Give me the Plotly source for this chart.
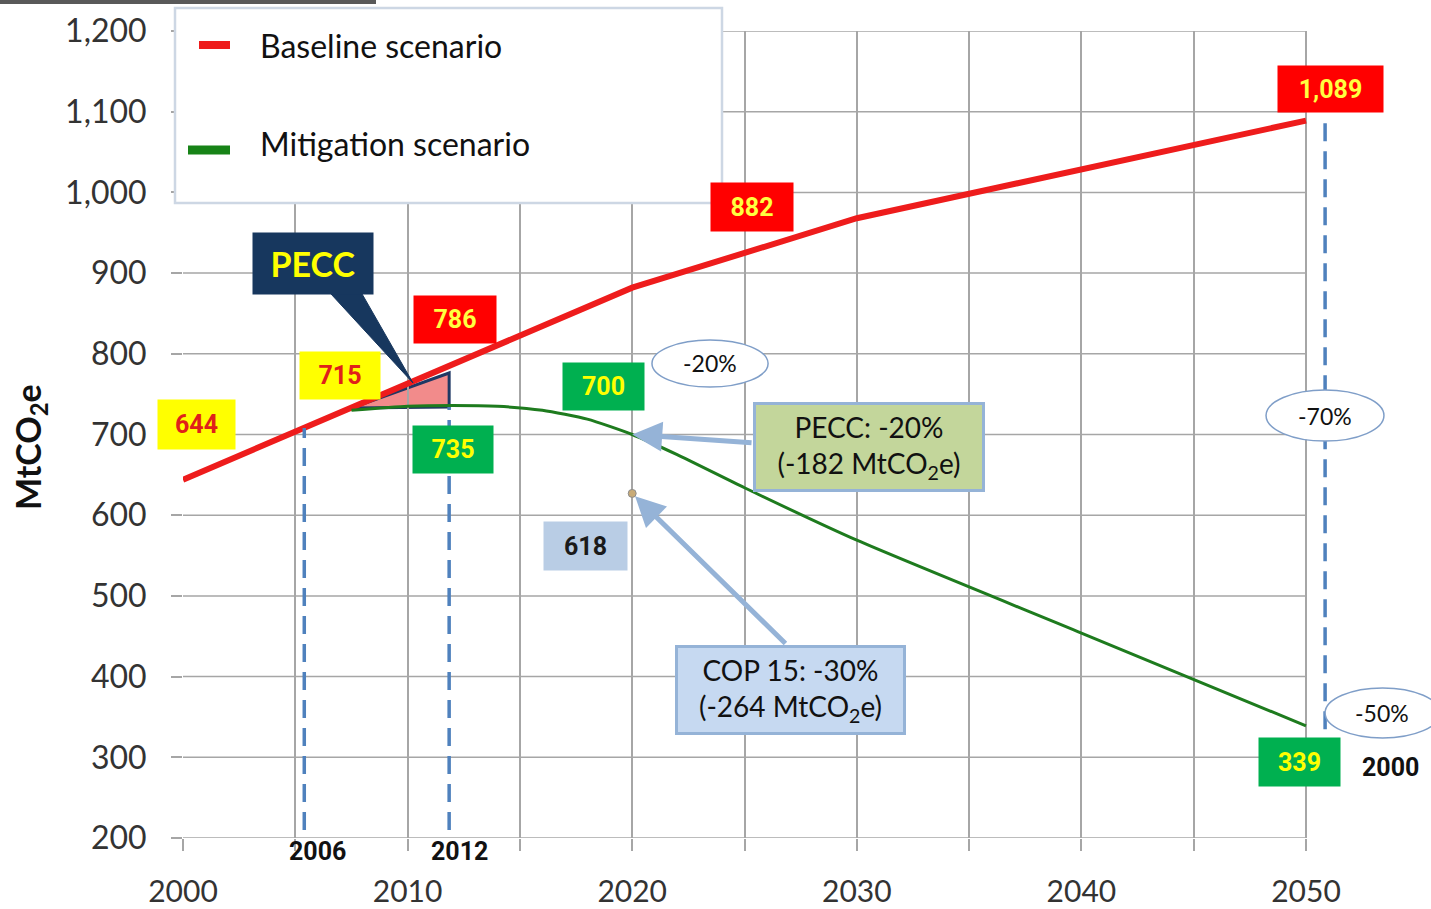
import numpy as np
import plotly.graph_objects as go

# ---------------- data ----------------
years_base = [2000, 2006, 2012, 2020, 2030, 2040, 2050]
baseline = [644, 715, 786, 882, 968, 1029, 1089]

years_mit = [2007.5, 2010, 2012, 2014, 2016, 2018, 2020, 2022, 2025, 2030, 2040, 2050]
mitigation = [730, 735, 736, 735, 730, 719, 700, 675, 634, 569, 454, 339]

cop15_year = [2020]
cop15_value = [627]

x_ticks = [2000, 2010, 2020, 2030, 2040, 2050]
x_minor = [2005, 2015, 2025, 2035, 2045]
y_ticks = list(range(200, 1201, 100))
y_ticktext = [f"{v:,}" for v in y_ticks]

value_labels = ["644", "715", "786", "882", "1,089", "735", "700", "339", "618"]
year_labels = ["2006", "2012", "2000"]
pct_labels = ["-20%", "-70%", "-50%"]
series_names = ["Baseline scenario", "Mitigation scenario"]

# ---------------- styles ----------------
RED = "#ee1c1c"
GREEN_LINE = "#1e7b1e"
GRID = "#a6a6a6"
YEL = "#ffff00"
BOXRED = "#ff0000"
BOXGRN = "#00b050"
BOXBLUE = "#b9cde5"
NAVY = "#17375e"
ARROW = "#95b3d7"
DASH = "#4f81bd"
NARROW = "Roboto, Liberation Sans, sans-serif"
SANS = "Lato, Calibri, Open Sans, sans-serif"

fig = go.Figure()

fig.add_trace(go.Scatter(x=years_base, y=baseline, mode="lines", name=series_names[0],
                         line=dict(color=RED, width=6)))
fig.add_trace(go.Scatter(x=years_mit, y=mitigation, mode="lines", name=series_names[1],
                         line=dict(color=GREEN_LINE, width=3, shape="spline", smoothing=0.6)))
fig.add_trace(go.Scatter(x=cop15_year, y=cop15_value, mode="markers", name="COP 15",
                         marker=dict(color="#c8ab78", size=8, line=dict(color="#8c8c8c", width=1))))

shapes = []
# horizontal gridlines (stop at 2050)
for v in y_ticks:
    shapes.append(dict(type="line", xref="x", yref="y", x0=x_ticks[0], x1=x_ticks[-1], y0=v, y1=v,
                       line=dict(color=GRID, width=1.5), layer="below"))

# PECC triangle from data
x_left = years_mit[0]
x_right = 2011.85
b_left = float(np.interp(x_left, years_base, baseline))
b_right = float(np.interp(x_right, years_base, baseline)) - 8
m_right = float(np.interp(x_right, years_mit, mitigation)) - 2
shapes.append(dict(type="path", xref="x", yref="y",
                   path=f"M {x_left},{b_left} L {x_right},{b_right} L {x_right},{m_right} Z",
                   fillcolor="#f28b8b", line=dict(color="#1f3864", width=3), layer="below"))

# dashed guide lines
dash_x = [2005.4, 2011.85, 2050.85]
dash_top = [float(np.interp(2005.4, years_base, baseline)), m_right, baseline[-1]]
dash_bot = [210, 210, 300]
for xx, yt, yb in zip(dash_x, dash_top, dash_bot):
    shapes.append(dict(type="line", xref="x", yref="y", x0=xx, x1=xx, y0=yb, y1=yt,
                       line=dict(color=DASH, width=3.5, dash="18px,10px"), layer="above"))

# PECC pointer
shapes.append(dict(type="path", xref="x", yref="y",
                   path="M 2006.23,885 L 2010.24,763.8 L 2007.75,885 Z",
                   fillcolor=NAVY, line=dict(color=NAVY, width=1), layer="above"))

# ellipses
ellipses = [(2020.88, 2026.05, 758.9, 817.1), (2048.22, 2053.47, 691.9, 755.1),
            (2050.85, 2055.97, 323.9, 385.9)]
for x0, x1, y0, y1 in ellipses:
    shapes.append(dict(type="circle", xref="x", yref="y", x0=x0, x1=x1, y0=y0, y1=y1,
                       fillcolor="white", line=dict(color="#7f9ec8", width=1.5), layer="above"))


def px(xp):
    return (xp - 183) / 1248.0


def py(yp):
    return (838 - yp) / 807.0


# legend box (paper)
shapes.append(dict(type="rect", xref="paper", yref="paper", x0=px(175), x1=px(722), y0=py(203), y1=py(8),
                   fillcolor="white", line=dict(color="#cdd7e4", width=2.5), layer="above"))
shapes.append(dict(type="line", xref="paper", yref="paper", x0=px(199), x1=px(230), y0=py(45), y1=py(45),
                   line=dict(color=RED, width=8), layer="above"))
shapes.append(dict(type="line", xref="paper", yref="paper", x0=px(188), x1=px(230), y0=py(150), y1=py(150),
                   line=dict(color="#178317", width=9), layer="above"))
# top grey bar
shapes.append(dict(type="rect", xref="paper", yref="paper", x0=px(0), x1=px(376), y0=py(4), y1=py(0),
                   fillcolor="#595959", line=dict(width=0), layer="above"))

annotations = []
# legend texts
for name, yy in zip(series_names, [45, 143]):
    annotations.append(dict(xref="paper", yref="paper", x=px(258), y=py(yy), text=name, showarrow=False,
                            xanchor="left", yanchor="middle", font=dict(family=SANS, size=32, color="#111")))

# value labels
label_pos = [(2000.62, 711.8, 77, 49, YEL, "#e0201a"),
             (2006.99, 773.7, 80, 47, YEL, "#e0201a"),
             (2012.11, 843.1, 82, 47, BOXRED, "#ffff40"),
             (2025.33, 981.9, 82, 48, BOXRED, "#ffff40"),
             (2051.07, 1128.1, 105, 46, BOXRED, "#ffff40"),
             (2012.02, 680.8, 80, 47, BOXGRN, YEL),
             (2018.70, 758.9, 81, 47, BOXGRN, YEL),
             (2049.73, 294.2, 81, 48, BOXGRN, YEL),
             (2017.90, 561.8, 83, 48, BOXBLUE, "#1a1a1a")]
for txt, (xx, yy, w, h, bg, fg) in zip(value_labels, label_pos):
    annotations.append(dict(x=xx, y=yy, xref="x", yref="y", text=f"<b>{txt}</b>", showarrow=False,
                            width=w, height=h, bgcolor=bg, borderpad=0, align="center", valign="middle",
                            font=dict(family=NARROW, size=25, color=fg)))

# year labels (below the axis -> paper y)
for txt, (xx, yy) in zip(year_labels, [(2006.01, py(851)), (2012.33, py(851)), (2053.74, py(767))]):
    annotations.append(dict(x=xx, y=yy, xref="x", yref="paper", text=f"<b>{txt}</b>", showarrow=False,
                            xanchor="center", yanchor="middle",
                            font=dict(family=NARROW, size=25, color="#111")))

# percentage ellipse texts
for txt, (xx, yy) in zip(pct_labels, [(2023.47, 788), (2050.85, 723.5), (2053.4, 354.9)]):
    annotations.append(dict(x=xx, y=yy, xref="x", yref="y", text=txt, showarrow=False,
                            font=dict(family=SANS, size=23, color="#111")))

# PECC callout box
annotations.append(dict(x=2005.79, y=912.5, xref="x", yref="y", text="<b>PECC</b>", showarrow=False,
                        width=120, height=61, bgcolor=NAVY, borderpad=0,
                        font=dict(family=SANS, size=34, color=YEL)))

# arrows
m2020 = float(np.interp(2020, years_mit, mitigation))
annotations.append(dict(x=2020, y=m2020, xref="x", yref="y", ax=2025.38, ay=689.5, axref="x", ayref="y",
                        text="", showarrow=True, arrowhead=2, arrowsize=1.2, arrowwidth=5,
                        arrowcolor=ARROW, standoff=0))
annotations.append(dict(x=cop15_year[0], y=cop15_value[0], xref="x", yref="y", ax=2026.89, ay=439.2,
                        axref="x", ayref="y", text="", showarrow=True, arrowhead=2, arrowsize=1.2,
                        arrowwidth=5, arrowcolor=ARROW, standoff=4))

# text boxes
annotations.append(dict(x=2030.54, y=684.5, xref="x", yref="y",
                        text="PECC: -20%<br>(-182 MtCO<sub>2</sub>e)", showarrow=False,
                        width=226, height=84, bgcolor="#c3d69b", bordercolor=ARROW, borderwidth=3, borderpad=0,
                        font=dict(family=SANS, size=28, color="#111")))
annotations.append(dict(x=2027.03, y=383.4, xref="x", yref="y",
                        text="COP 15: -30%<br>(-264 MtCO<sub>2</sub>e)", showarrow=False,
                        width=225, height=84, bgcolor="#c6d9f1", bordercolor=ARROW, borderwidth=3, borderpad=0,
                        font=dict(family=SANS, size=28, color="#111")))

# y-axis title
annotations.append(dict(xref="paper", yref="paper", x=px(30), y=py(447), text="<b>MtCO<sub>2</sub>e</b>",
                        xanchor="center", yanchor="middle",
                        showarrow=False, textangle=-90, font=dict(family=SANS, size=34, color="#111")))

fig.update_layout(
    width=1431, height=909,
    margin=dict(l=183, r=0, t=31, b=71, autoexpand=False),
    plot_bgcolor="white", paper_bgcolor="white",
    showlegend=False,
    shapes=shapes, annotations=annotations,
    xaxis=dict(range=[2000, 2055.565], tickvals=x_ticks, ticktext=[str(v) for v in x_ticks],
               automargin=False,
               showgrid=True, gridcolor=GRID, gridwidth=1.5, zeroline=False, showline=False,
               ticks="outside", ticklen=12, tickcolor=GRID, tickwidth=1.5,
               ticklabelstandoff=15,
               tickfont=dict(family=SANS, size=30, color="#333"),
               minor=dict(tickvals=x_minor, showgrid=True, gridcolor=GRID, gridwidth=1.5,
                          ticks="outside", ticklen=12, tickcolor=GRID, tickwidth=1.5)),
    yaxis=dict(range=[200, 1200], tickvals=y_ticks, ticktext=y_ticktext, showgrid=False,
               automargin=False,
               zeroline=False, showline=False, ticks="outside", ticklen=11, tickcolor=GRID, tickwidth=1.5,
               ticklabelstandoff=18,
               tickfont=dict(family=SANS, size=32, color="#333")),
)

fig.write_html("out.html", config={"displayModeBar": False},
               post_script="document.body.style.margin='0px';document.body.style.overflow='hidden';")
